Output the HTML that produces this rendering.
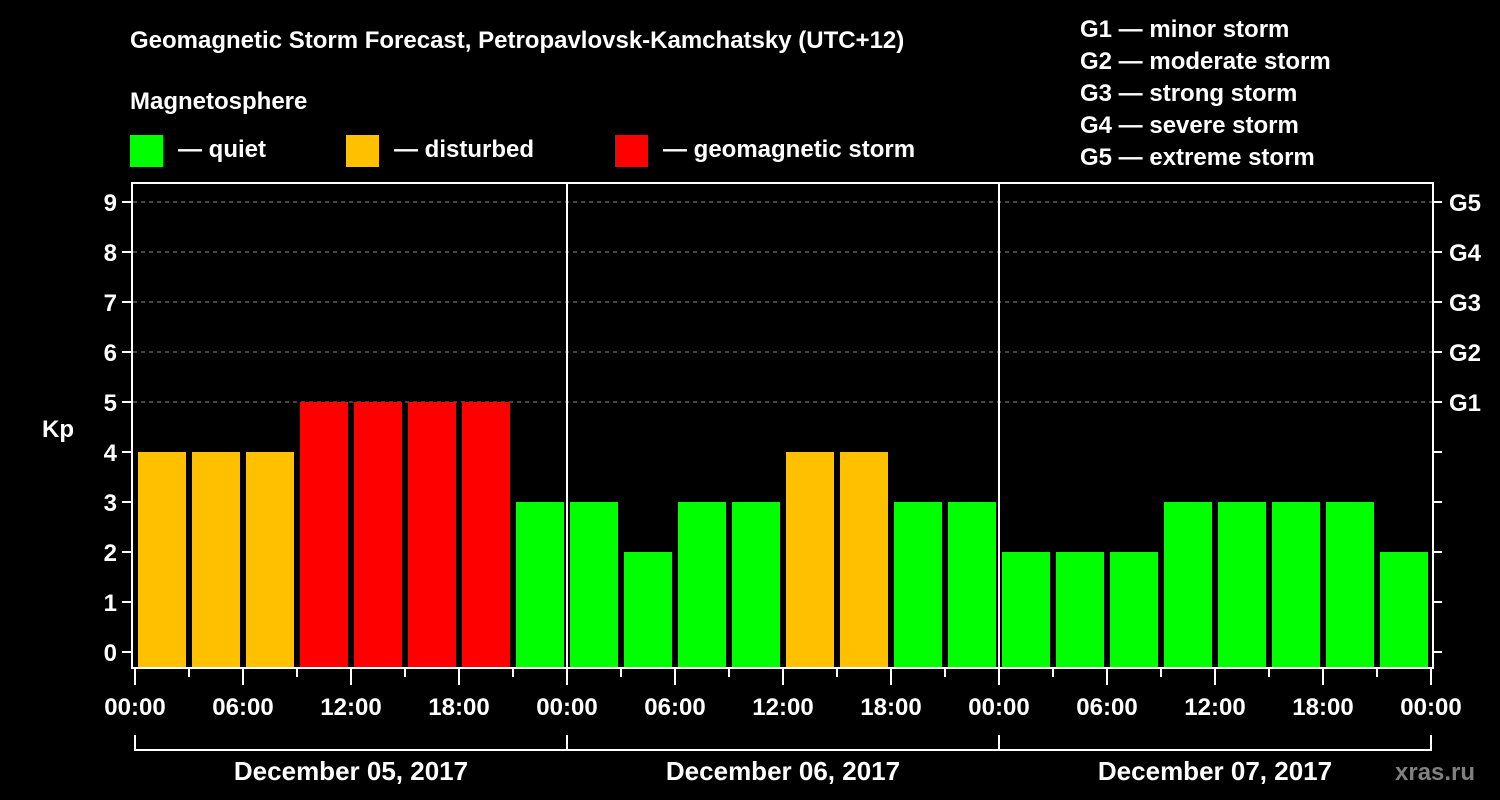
<!DOCTYPE html>
<html><head><meta charset="utf-8"><style>
html,body{margin:0;padding:0;background:#000;}
svg{display:block;font-family:"Liberation Sans",sans-serif;font-weight:bold;}
</style></head><body>
<svg width="1500" height="800" viewBox="0 0 1500 800">
<rect width="1500" height="800" fill="#000"/>
<g fill="#fff" font-size="24">
<text x="130" y="48">Geomagnetic Storm Forecast, Petropavlovsk-Kamchatsky (UTC+12)</text>
<text x="130" y="109">Magnetosphere</text>
</g>
<g font-size="24" fill="#fff">
<rect x="130" y="135" width="33" height="32" fill="#00ff00"/>
<text x="178" y="157">— quiet</text>
<rect x="346" y="135" width="33" height="32" fill="#ffc000"/>
<text x="394" y="157">— disturbed</text>
<rect x="615" y="135" width="33" height="32" fill="#ff0000"/>
<text x="663" y="157">— geomagnetic storm</text>
</g>
<g font-size="24" fill="#fff">
<text x="1080" y="37">G1 — minor storm</text>
<text x="1080" y="69">G2 — moderate storm</text>
<text x="1080" y="101">G3 — strong storm</text>
<text x="1080" y="133">G4 — severe storm</text>
<text x="1080" y="165">G5 — extreme storm</text>
</g>
<g id="plot"></g>
<text x="1395" y="780" font-size="24" fill="#808080">xras.ru</text>
</svg>
<script>
const kpValues = [4,4,4,5,5,5,5,3, 3,2,3,3,4,4,3,3, 2,2,2,3,3,3,3,2];
const dayLabels = ["December 05, 2017","December 06, 2017","December 07, 2017"];
const hourLabels = ["00:00","06:00","12:00","18:00"];
const yTicks = [0,1,2,3,4,5,6,7,8,9];
const gLabels = ["G1","G2","G3","G4","G5"];
const gLevels = [5,6,7,8,9];

const NS="http://www.w3.org/2000/svg";
const g=document.getElementById('plot');
const X0=135, STEP=54, TOP=183, BOT=668;
const xs=i=>X0+i*STEP;
const ys=v=>652-v*50;
function mk(t,a,p){const e=document.createElementNS(NS,t);for(const k in a)e.setAttribute(k,a[k]);(p||g).appendChild(e);return e;}
// grid
gLevels.forEach(v=>{const l=mk('line',{x1:133,x2:1432,y1:ys(v),y2:ys(v),stroke:'#888','stroke-dasharray':'4,4','stroke-width':1});

});
// bars
kpValues.forEach((v,i)=>{const c=v>=5?'#ff0000':(v>=4?'#ffc000':'#00ff00');
const r=mk('rect',{x:xs(i)+3,y:ys(v),width:48,height:667-ys(v),fill:c});

});
// frame
const fr=mk('rect',{x:132,y:183,width:1301,height:485,fill:'none',stroke:'#fff','stroke-width':2});


for(let d=1;d<dayLabels.length;d++){const l=mk('line',{x1:xs(d*8),x2:xs(d*8),y1:183,y2:668,stroke:'#fff','stroke-width':2});

}
// y ticks left/right
yTicks.forEach(v=>{
const t1=mk('line',{x1:122,x2:132,y1:ys(v),y2:ys(v),stroke:'#fff','stroke-width':2});


const t2=mk('line',{x1:1433,x2:1442,y1:ys(v),y2:ys(v),stroke:'#fff','stroke-width':2});


const tx=mk('text',{x:117,y:ys(v)+9,'text-anchor':'end','font-size':24,fill:'#fff'});tx.textContent=v;

});
gLevels.forEach((v,i)=>{const tx=mk('text',{x:1449,y:ys(v)+9,'font-size':24,fill:'#fff'});tx.textContent=gLabels[i];

});
const yt=mk('text',{x:42,y:437,'font-size':24,fill:'#fff'});yt.textContent='Kp';


// x ticks
for(let i=0;i<=kpValues.length;i++){const major=i%2==0;
const t=mk('line',{x1:xs(i),x2:xs(i),y1:669,y2:major?685:677,stroke:'#fff','stroke-width':2});


if(major){const tx=mk('text',{x:xs(i),y:715,'text-anchor':'middle','font-size':24,fill:'#fff'});
tx.textContent=hourLabels[(i/2)%4];

}}
// day brackets
dayLabels.forEach((d,k)=>{const a=xs(k*8),b=xs(k*8+8);
const p=mk('path',{d:`M${a} 735 V750 H${b} V735`,fill:'none',stroke:'#fff','stroke-width':2});


const tx=mk('text',{x:(a+b)/2,y:780,'text-anchor':'middle','font-size':26,fill:'#fff'});tx.textContent=d;

});
</script>
</body></html>
